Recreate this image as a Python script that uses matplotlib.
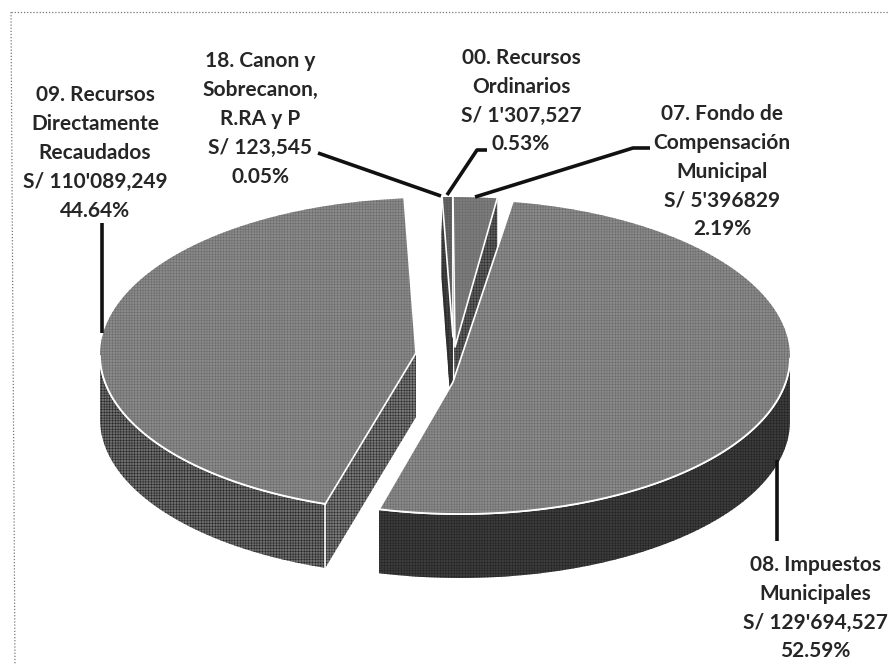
import numpy as np
from matplotlib import pyplot as plt

plt.rcParams['font.family'] = ['Lato', 'DejaVu Sans']
plt.rcParams['hatch.linewidth'] = 0.35

# slices, in the order of the chart (clockwise)
codes = ['00', '07', '08', '09', '18']
amounts = [1307527, 5396829, 129694527, 110089249, 123545]
labels = ["00. Recursos\nOrdinarios\nS/ 1'307,527\n0.53%",
          "07. Fondo de\nCompensación\nMunicipal\nS/ 5'396829\n2.19%",
          "08. Impuestos\nMunicipales\nS/ 129'694,527\n52.59%",
          "09. Recursos\nDirectamente\nRecaudados\nS/ 110'089,249\n44.64%",
          "18. Canon y\nSobrecanon,\nR.RA y P\nS/ 123,545\n0.05%"]

# look of the exploded 3d pie, everything in pixels of the picture
RX = 330
RY = 157
DEPTH = 64
SQUEEZE = 0.977
start = {'00': -1.9, '07': 0, '08': 9.2, '09': 198.5, '18': -2.1}
centre = {'00': (453, 354), '07': (453, 354), '08': (460, 357), '09': (430, 355), '18': (453.5, 370)}
apex = {'00': (453, 337), '07': (455, 347), '08': (453, 382), '09': (416, 353), '18': (452, 357)}
top_col = {'00': '#5a5a5a', '07': '#7c7c7c', '08': '#8a8a8a', '09': '#8a8a8a', '18': '#333333'}
arc_col = {'00': '#444444', '07': '#444444', '08': '#3c3c3c', '09': '#6e6e6e', '18': '#333333'}
face_col = {'00': '#444444', '07': '#5e5e5e', '08': '#3c3c3c', '09': '#787878', '18': '#333333'}
label_pos = {'00': (521, 101), '07': (722, 171.5), '08': (815, 608), '09': (95, 153), '18': (260, 119)}
leaders = {'00': [(487, 150), (477, 150), (447, 195)],
           '07': [(650, 148), (633, 148), (475, 197)],
           '08': [(777, 460), (777, 541)],
           '09': [(102, 333), (102, 223)],
           '18': [(318, 153), (441, 196)]}

fig = plt.figure(figsize=(8.88, 6.65), dpi=100)
ax = fig.add_axes([0, 0, 1, 1])
ax.set_xlim(0, 888)
ax.set_ylim(665, 0)
ax.axis('off')

total = float(sum(amounts))

def rim(code, sweep):
    phi = np.radians(np.linspace(start[code], start[code] + sweep, 160))
    cx, cy = centre[code]
    return cx + RX * np.sin(phi), cy - RY * np.cos(phi), phi

# back slices first, the big ones come over them
for code in ['18', '00', '07', '09', '08']:
    sweep = amounts[codes.index(code)] / total * 360 * SQUEEZE
    xs, ys, phi = rim(code, sweep)
    ax0, ay0 = apex[code]

    # the two cut faces
    for ex, ey in [(xs[0], ys[0]), (xs[-1], ys[-1])]:
        ax.fill([ax0, ex, ex, ax0], [ay0, ey, ey + DEPTH, ay0 + DEPTH],
                facecolor=face_col[code], edgecolor='#2a2a2a', hatch='++++++', lw=0, zorder=2)

    # outer wall, only the part turned to the viewer
    front = (phi > np.pi / 2) & (phi < 3 * np.pi / 2)
    if front.any():
        fx = xs[front]
        fy = ys[front]
        ax.fill(np.r_[fx, fx[::-1]], np.r_[fy, fy[::-1] + DEPTH],
                facecolor=arc_col[code], edgecolor='#222222', hatch='++++++', lw=0, zorder=2)
        ax.plot(fx, fy, color='white', lw=1.3, zorder=2)

    # top
    ax.fill(np.r_[ax0, xs], np.r_[ay0, ys], facecolor=top_col[code], edgecolor='#6a6a6a',
            hatch='++++++', lw=0, zorder=2)
    ax.plot([xs[0], ax0, xs[-1]], [ys[0], ay0, ys[-1]], color='white', lw=1.2, zorder=2)
    if front.any():
        ax.plot(fx, fy, color='white', lw=1.3, zorder=2)
    if code == '09':
        ax.plot([xs[0], xs[0]], [ys[0], ys[0] + DEPTH], color='white', lw=1.1, zorder=2)

for i, code in enumerate(codes):
    ax.text(label_pos[code][0], label_pos[code][1], labels[i], ha='center', va='center',
            fontsize=15, fontweight='bold', color='#262626', linespacing=1.56, zorder=4)
    pts = np.array(leaders[code])
    ax.plot(pts[:, 0], pts[:, 1], color='#111111', lw=2.6, solid_capstyle='butt', zorder=3)

# dotted frame of the scan, a little skewed
ax.plot([11, 15], [12, 665], color='#777777', lw=0.9, ls=(0, (1, 1.5)), zorder=1)
ax.plot([11, 888], [12, 12], color='#777777', lw=0.9, ls=(0, (1, 1.5)), zorder=1)

fig.savefig('out.png', dpi=100)
